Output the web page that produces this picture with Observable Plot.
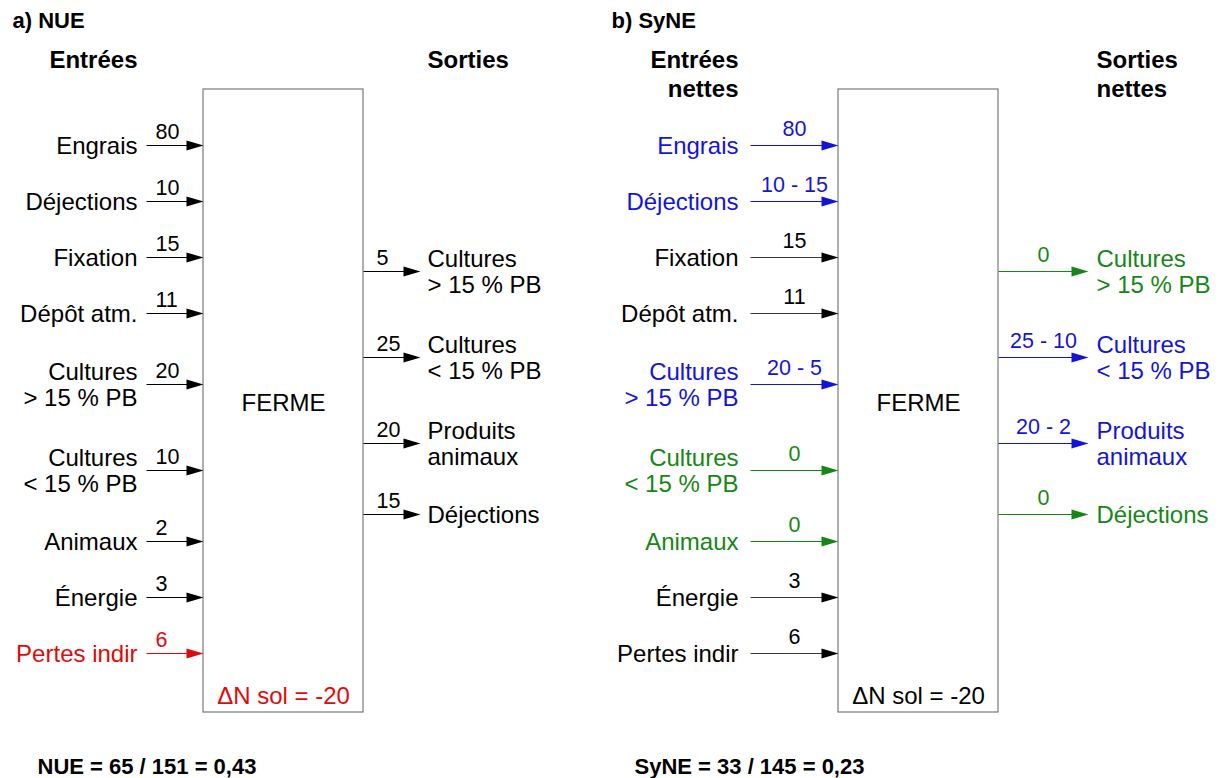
<!DOCTYPE html>
<html>
<head>
<meta charset="utf-8">
<script src="https://cdn.jsdelivr.net/npm/d3@7"></script>
<script src="https://cdn.jsdelivr.net/npm/@observablehq/plot@0.6"></script>
<style>
  html, body { margin: 0; padding: 0; background: #fff; }
  #chart svg { display: block; }
</style>
</head>
<body>
<div id="chart"></div>
<script>
// ---------- data ----------
const inputLabels = ["Engrais", "Déjections", "Fixation", "Dépôt atm.", "Cultures\n> 15 % PB", "Cultures\n< 15 % PB", "Animaux", "Énergie", "Pertes indir"];
const outputLabels = ["Cultures\n> 15 % PB", "Cultures\n< 15 % PB", "Produits\nanimaux", "Déjections"];

const nueInputValues = ["80", "10", "15", "11", "20", "10", "2", "3", "6"];
const nueInputKinds = ["neutral", "neutral", "neutral", "neutral", "neutral", "neutral", "neutral", "neutral", "red"];
const nueOutputValues = ["5", "25", "20", "15"];
const nueOutputKinds = ["neutral", "neutral", "neutral", "neutral"];

const syneInputValues = ["80", "10 - 15", "15", "11", "20 - 5", "0", "0", "3", "6"];
const syneInputKinds = ["blue", "blue", "neutral", "neutral", "blue", "green", "green", "neutral", "neutral"];
const syneOutputValues = ["0", "25 - 10", "20 - 2", "0"];
const syneOutputKinds = ["green", "blue", "blue", "green"];

const panelTitles = ["a) NUE", "b) SyNE"];
const inputHeaders = ["Entrées", "Entrées\nnettes"];
const outputHeaders = ["Sorties", "Sorties\nnettes"];
const farmLabel = "FERME";
const soilLabel = "ΔN sol = -20";
const soilKinds = ["red", "neutral"];
const formulas = ["NUE = 65 / 151 = 0,43", "SyNE = 33 / 145 = 0,23"];

// ---------- styles / layout ----------
const W = 1226, H = 778;
const FONT = "Liberation Sans, Arial, Helvetica, sans-serif";
const colors = {neutral: "#000000", blue: "#1414d8", green: "#168716", red: "#e10a0a"};
const lineColors = {neutral: ["#000000", "#3a3a3a"], blue: ["#1414d8", "#1414d8"], green: ["#168716", "#168716"], red: ["#e10a0a", "#e10a0a"]};
const LABEL_SIZE = 24, VALUE_SIZE = 21.5, TITLE_SIZE = 22, FORMULA_SIZE = 22;

const layout = [
  {boxX1: 203, boxX2: 363, inX1: 146, inX2: 203, outX1: 363, outX2: 420,
   inLabelX: 137, outLabelX: 427, valAnchor: "start", inValX: 155, outValX: 376, valDy: -13,
   titleX: 12, formulaX: 37},
  {boxX1: 838, boxX2: 998, inX1: 750, inX2: 838, outX1: 998, outX2: 1088,
   inLabelX: 738, outLabelX: 1096, valAnchor: "middle", inValX: 794, outValX: 1043, valDy: -16,
   titleX: 611, formulaX: 634}
];
const boxTop = 89, boxBottom = 712;
const inStart = 117, outStart = 228, rowSingle = 56, rowDouble = 86;

function rowCenters(labels, start) {
  let acc = start;
  return labels.map(l => {
    const h = l.includes("\n") ? rowDouble : rowSingle;
    const c = acc + h / 2;
    acc += h;
    return c;
  });
}
const inY = rowCenters(inputLabels, inStart);
const outY = rowCenters(outputLabels, outStart);

const panelData = [
  {inVals: nueInputValues, inKinds: nueInputKinds, outVals: nueOutputValues, outKinds: nueOutputKinds},
  {inVals: syneInputValues, inKinds: syneInputKinds, outVals: syneOutputValues, outKinds: syneOutputKinds}
];

const rows = [];
panelData.forEach((p, pi) => {
  const L = layout[pi];
  inputLabels.forEach((lab, i) => rows.push({
    panel: pi, side: "in", label: lab, value: p.inVals[i], kind: p.inKinds[i], y: inY[i],
    x1: L.inX1, x2: L.inX2, labelX: L.inLabelX, labelAnchor: "end", valX: L.inValX, valAnchor: L.valAnchor, valDy: L.valDy
  }));
  outputLabels.forEach((lab, i) => rows.push({
    panel: pi, side: "out", label: lab, value: p.outVals[i], kind: p.outKinds[i], y: outY[i],
    x1: L.outX1, x2: L.outX2, labelX: L.outLabelX, labelAnchor: "start", valX: L.outValX, valAnchor: L.valAnchor, valDy: L.valDy
  }));
});

const panels = layout.map((L, i) => ({
  ...L, title: panelTitles[i], inHeader: inputHeaders[i], outHeader: outputHeaders[i],
  soilKind: soilKinds[i], formula: formulas[i]
}));

const arrowHead = {
  draw(ctx) {
    ctx.moveTo(0, 0);
    ctx.lineTo(-17, -5);
    ctx.lineTo(-17, 5);
    ctx.closePath();
  }
};

const textCommon = {fontFamily: FONT, lineAnchor: "middle"};

const chart = Plot.plot({
  width: W,
  height: H,
  margin: 0,
  x: {domain: [0, W], range: [0, W], axis: null},
  y: {domain: [0, H], range: [0, H], axis: null},
  style: {background: "#fff", fontFamily: FONT},
  marks: [
    // farm boxes
    Plot.rect(panels, {x1: "boxX1", x2: "boxX2", y1: () => boxTop, y2: () => boxBottom, fill: "none", stroke: "#7a7a7a", strokeWidth: 1.2}),
    // arrow shafts
    Plot.link(rows, {x1: "x1", x2: d => d.x2 - 10, y1: "y", y2: "y", stroke: d => lineColors[d.kind][d.panel], strokeWidth: 1.1}),
    // arrow heads
    Plot.dot(rows, {x: "x2", y: "y", symbol: arrowHead, fill: d => colors[d.kind], stroke: "none", r: 5}),
    // flow labels
    Plot.text(rows, {...textCommon, x: "labelX", y: "y", text: "label", textAnchor: "start", fill: d => colors[d.kind], fontSize: LABEL_SIZE, lineHeight: 1.09,
      filter: d => d.labelAnchor === "start"}),
    Plot.text(rows, {...textCommon, x: "labelX", y: "y", text: "label", textAnchor: "end", fill: d => colors[d.kind], fontSize: LABEL_SIZE, lineHeight: 1.09,
      filter: d => d.labelAnchor === "end"}),
    // flow values
    Plot.text(rows, {...textCommon, x: "valX", y: d => d.y + d.valDy, text: "value", textAnchor: "start", fill: d => colors[d.kind], fontSize: VALUE_SIZE,
      filter: d => d.valAnchor === "start"}),
    Plot.text(rows, {...textCommon, x: "valX", y: d => d.y + d.valDy, text: "value", textAnchor: "middle", fill: d => colors[d.kind], fontSize: VALUE_SIZE,
      filter: d => d.valAnchor === "middle"}),
    // headers
    Plot.text(panels, {...textCommon, lineAnchor: "top", x: "inLabelX", y: () => 48, text: "inHeader", textAnchor: "end", fontWeight: "bold", fontSize: LABEL_SIZE, lineHeight: 1.17}),
    Plot.text(panels, {...textCommon, lineAnchor: "top", x: "outLabelX", y: () => 48, text: "outHeader", textAnchor: "start", fontWeight: "bold", fontSize: LABEL_SIZE, lineHeight: 1.17}),
    // titles
    Plot.text(panels, {...textCommon, x: "titleX", y: () => 20, text: "title", textAnchor: "start", fontWeight: "bold", fontSize: TITLE_SIZE}),
    // box texts
    Plot.text(panels, {...textCommon, x: d => (d.boxX1 + d.boxX2) / 2, y: () => 403, text: () => farmLabel, fontSize: LABEL_SIZE}),
    Plot.text(panels, {...textCommon, x: d => (d.boxX1 + d.boxX2) / 2, y: () => 696, text: () => soilLabel, fontSize: LABEL_SIZE, fill: d => colors[d.soilKind]}),
    // formulas
    Plot.text(panels, {...textCommon, x: "formulaX", y: () => 766, text: "formula", textAnchor: "start", fontWeight: "bold", fontSize: FORMULA_SIZE})
  ]
});

document.getElementById("chart").appendChild(chart);
</script>
</body>
</html>
